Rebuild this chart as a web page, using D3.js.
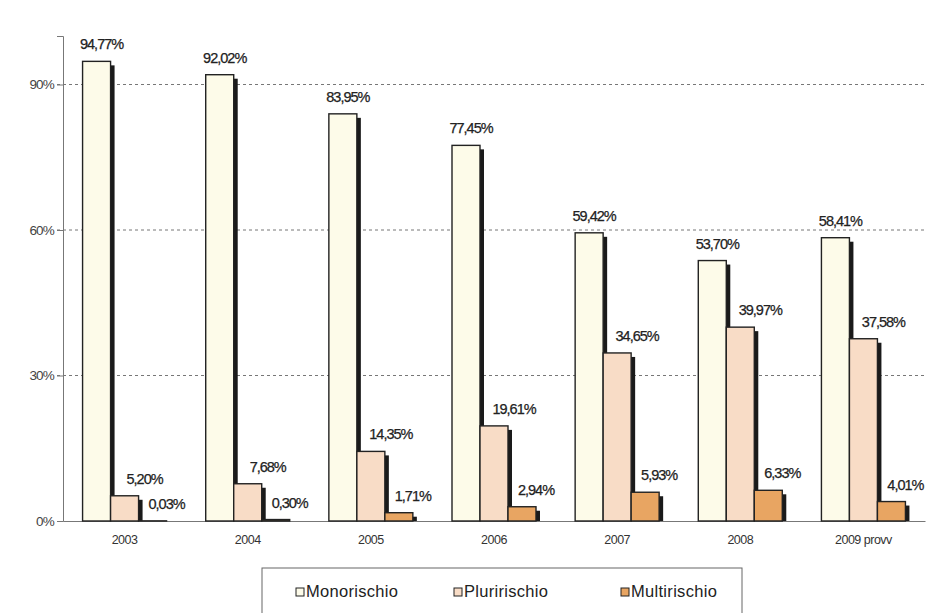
<!DOCTYPE html>
<html><head><meta charset="utf-8">
<script src="https://cdn.jsdelivr.net/npm/d3@7"></script>
<style>
html,body{margin:0;padding:0;background:#fff;}
svg{display:block;font-family:"Liberation Sans",Arial,sans-serif;}
</style></head>
<body>
<svg id="chart" width="930" height="613"></svg>
<script>
const categories = ["2003","2004","2005","2006","2007","2008","2009 provv"];
const seriesNames = ["Monorischio","Pluririschio","Multirischio"];
const monorischio = [94.77,92.02,83.95,77.45,59.42,53.70,58.41];
const pluririschio = [5.20,7.68,14.35,19.61,34.65,39.97,37.58];
const multirischio = [0.03,0.30,1.71,2.94,5.93,6.33,4.01];
const yTicks = [0,30,60,90];
const colors = ["#fdfbe9","#f8dcc6","#e8a562"];

const svg = d3.select("#chart");
const m = {left:63, right:5, top:36, bottom:92};
const W = 930, H = 613;
const x = d3.scaleBand().domain(categories).range([m.left, W-m.right]).padding(0);
const y = d3.scaleLinear().domain([0,100]).range([H-m.bottom, m.top]);
const groupW = 84;
const xs = d3.scaleBand().domain(seriesNames).range([0, groupW]).padding(0);

const seriesData = [monorischio, pluririschio, multirischio];

// gridlines
const g = svg.append("g");
g.selectAll("line.grid").data(yTicks.filter(d=>d>0)).join("line")
  .attr("x1", m.left-6).attr("x2", W-m.right)
  .attr("y1", d=>y(d)).attr("y2", d=>y(d))
  .attr("stroke","#777").attr("stroke-width",1).attr("stroke-dasharray","3,3");

// y axis
const yAxis = d3.axisLeft(y).tickValues(yTicks).tickFormat(d=>d+"%").tickSize(6).tickPadding(3);
const ya = svg.append("g").attr("transform",`translate(${m.left},0)`).call(yAxis);
ya.select(".domain").attr("stroke","#777");
ya.selectAll(".tick line").attr("stroke","#777");
ya.selectAll(".tick text").attr("fill","#444").attr("font-size",13.5).attr("letter-spacing","-0.8px")
  .attr("font-family","Liberation Sans, Arial, sans-serif");

// x axis
const xAxis = d3.axisBottom(x).tickSize(0).tickPadding(14);
const xa = svg.append("g").attr("transform",`translate(0,${y(0)})`).call(xAxis);
xa.select(".domain").attr("stroke","#777");
xa.selectAll(".tick text").attr("fill","#333").attr("font-size",12.5).attr("letter-spacing","-0.5px")
  .attr("font-family","Liberation Sans, Arial, sans-serif");

// bars
const bars = svg.append("g");
const labelDx = [5, 20, 14];
categories.forEach((c,i)=>{
  const gx = x(c) + x.bandwidth()/2 - groupW/2;
  seriesNames.forEach((s,k)=>{
    const v = seriesData[k][i];
    const bx = gx + xs(s), bw = xs.bandwidth();
    const top = y(v), base = y(0);
    // shadow
    bars.append("rect").attr("x", bx+4).attr("y", Math.min(top+4, base))
      .attr("width", bw).attr("height", Math.max(0, base - Math.min(top+4,base)))
      .attr("fill","#1a1a1a");
    bars.append("rect").attr("x", bx).attr("y", top)
      .attr("width", bw).attr("height", base-top)
      .attr("fill", colors[k]).attr("stroke","#222").attr("stroke-width",1.4);
    bars.append("text").attr("x", bx + bw/2 + labelDx[k]).attr("y", top - 12)
      .attr("text-anchor","middle").attr("font-size",14.5).attr("letter-spacing","-1px")
      .attr("fill","#222").attr("stroke","#222").attr("stroke-width",0.25)
      .text(d3.format(".2f")(v).replace(".",",")+"%");
  });
});

// legend
const lg = svg.append("g");
lg.append("rect").attr("x",262).attr("y",568).attr("width",480).attr("height",60)
  .attr("fill","#fff").attr("stroke","#666").attr("stroke-width",1);
const legX = [296, 454, 621];
seriesNames.forEach((s,k)=>{
  lg.append("rect").attr("x",legX[k]).attr("y",588).attr("width",8).attr("height",8)
    .attr("fill",colors[k]).attr("stroke","#222").attr("stroke-width",1);
  lg.append("text").attr("x",legX[k]+10).attr("y",597).attr("font-size",16.5)
    .attr("letter-spacing","0.3px").attr("fill","#222").text(s);
});
</script>
</body></html>
